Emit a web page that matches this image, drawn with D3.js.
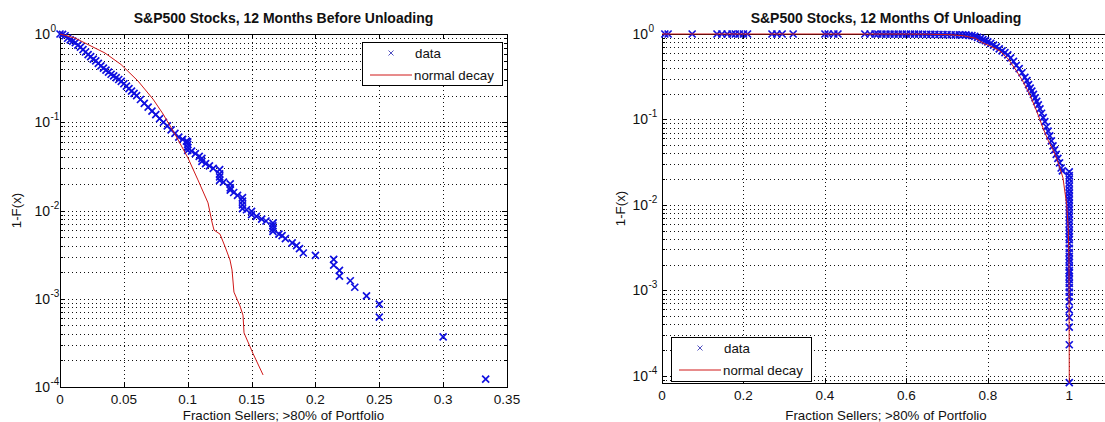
<!DOCTYPE html>
<html>
<head>
<meta charset="utf-8">
<script src="https://cdn.jsdelivr.net/npm/d3@7"></script>
<style>
  body { margin: 0; background: #fff; }
  svg text { font-family: "Liberation Sans", Arial, Helvetica, sans-serif; fill: #111; }
</style>
</head>
<body>
<svg id="chart" width="1105" height="422"></svg>
<script>
// ---- values: [fraction, 1-F(x)] ----
const beforeData = [
  [0,1],[0.002,0.99],[0.004,0.955],[0.006,0.895],[0.008,0.86],[0.010,0.83],[0.012,0.80],[0.014,0.75],
  [0.016,0.71],[0.018,0.665],[0.020,0.625],[0.022,0.585],[0.024,0.555],[0.026,0.52],[0.028,0.495],
  [0.030,0.465],[0.032,0.435],[0.034,0.41],[0.036,0.39],[0.038,0.37],[0.040,0.35],[0.042,0.335],
  [0.044,0.32],[0.046,0.305],[0.048,0.29],[0.050,0.273],[0.052,0.256],[0.054,0.24],[0.056,0.225],
  [0.058,0.212],[0.060,0.2],[0.063,0.181],[0.066,0.164],[0.069,0.148],[0.072,0.134],[0.075,0.122],
  [0.078,0.11],[0.081,0.1],[0.084,0.091],[0.087,0.082],[0.090,0.075],[0.093,0.068],[0.096,0.064],
  [0.099,0.061],[0.1,0.060],[0.1,0.056],[0.1,0.052],[0.1,0.048],[0.103,0.047],[0.106,0.044],
  [0.109,0.041],[0.1111,0.039],[0.1111,0.036],[0.114,0.034],[0.117,0.032],[0.120,0.030],
  [0.125,0.029],[0.125,0.026],[0.125,0.024],[0.125,0.022],[0.128,0.021],[0.1333,0.020],[0.1333,0.018],
  [0.1333,0.017],[0.136,0.016],[0.139,0.0148],[0.1429,0.0140],[0.1429,0.0128],[0.1429,0.0116],
  [0.1429,0.0105],[0.146,0.0102],[0.15,0.0098],[0.15,0.0090],[0.1538,0.0086],[0.1579,0.0080],
  [0.1613,0.0076],[0.1667,0.0072],[0.1667,0.0067],[0.1667,0.0062],[0.1667,0.0058],[0.1714,0.0054],
  [0.1739,0.0052],[0.1765,0.0048],[0.1818,0.0043],[0.1852,0.0040],[0.1875,0.0037],[0.1905,0.0033],
  [0.2,0.0031],[0.2143,0.0028],[0.2143,0.0024],[0.2188,0.0021],[0.2188,0.0018],[0.2273,0.0016],
  [0.2308,0.00135],[0.24,0.00108],[0.25,0.00087],[0.25,0.00062],[0.3,0.00037],[0.3333,0.000123]
]
const beforeDecay = [
  [0,1],[0.0117,0.901],[0.0219,0.76],[0.0352,0.609],[0.0478,0.451],[0.0611,0.293],[0.0728,0.183],
  [0.0807,0.124],[0.0908,0.0699],[0.1002,0.0394],[0.108,0.0222],[0.1159,0.0122],[0.119,0.0074],
  [0.1206,0.0060],[0.1253,0.0054],[0.1292,0.0039],[0.1331,0.00275],[0.1347,0.00212],[0.1362,0.00119],
  [0.1409,0.00083],[0.1433,0.00065],[0.1441,0.00041],[0.1511,0.00024],[0.159,0.000137]
]
const ofData = [
  // sparse points on the top edge
  [0.007,0.9999],[0.015,0.9999],[0.074,0.9999],[0.135,0.9999],[0.147,0.9999],[0.160,0.9999],
  [0.172,0.9999],[0.180,0.9999],[0.190,0.9999],[0.200,0.9999],[0.210,0.9999],[0.270,0.9999],
  [0.282,0.9999],[0.295,0.9999],[0.322,0.9999],[0.400,0.9999],[0.408,0.9999],[0.422,0.9999],
  [0.432,0.9999],[0.498,0.9998],[0.511,0.9998],
  // dense band
  [0.523,0.9996],[0.53,0.9995],[0.54,0.9993],[0.55,0.999],[0.56,0.9988],[0.57,0.9985],[0.58,0.998],
  [0.59,0.9975],[0.60,0.997],[0.61,0.9963],[0.62,0.9955],[0.63,0.9945],[0.64,0.9935],[0.65,0.992],
  [0.66,0.99],[0.67,0.988],[0.68,0.986],[0.69,0.984],[0.70,0.982],[0.71,0.98],[0.72,0.979],
  [0.73,0.978],[0.738,0.977],[0.746,0.975],[0.754,0.965],[0.761,0.955],[0.768,0.94],[0.775,0.915],
  [0.782,0.89],[0.788,0.86],[0.794,0.835],[0.800,0.81],[0.807,0.775],[0.814,0.74],[0.821,0.705],
  [0.828,0.67],[0.835,0.635],[0.842,0.605],[0.849,0.57],[0.856,0.525],[0.863,0.478],[0.870,0.43],
  [0.877,0.393],[0.884,0.352],[0.891,0.31],[0.896,0.285],[0.900,0.255],[0.904,0.232],[0.908,0.214],
  [0.912,0.196],[0.916,0.179],[0.920,0.163],[0.924,0.148],[0.928,0.133],[0.932,0.118],[0.936,0.105],
  [0.940,0.094],[0.944,0.082],[0.948,0.073],[0.952,0.064],[0.956,0.056],[0.960,0.049],[0.964,0.044],
  [0.968,0.039],[0.972,0.035],[0.976,0.031],[0.980,0.027],[0.983,0.025],
  // column at 1
  [1,0.0243],[1,0.022],[1,0.020],[1,0.018],[1,0.0165],[1,0.015],[1,0.0137],[1,0.0125],[1,0.0114],
  [1,0.0104],[1,0.0095],[1,0.0087],[1,0.0079],[1,0.0072],[1,0.0066],[1,0.006],[1,0.0055],[1,0.005],
  [1,0.0046],[1,0.0042],[1,0.0039],[1,0.0035],[1,0.0031],[1,0.00275],[1,0.0025],[1,0.00228],
  [1,0.0021],[1,0.00188],[1,0.0017],[1,0.0016],[1,0.00145],[1,0.00133],[1,0.0012],[1,0.00107],
  [1,0.00095],[1,0.00084],[1,0.00073],[1,0.00059],[1,0.00048],[1,0.00037],[1,0.00023],[1,0.000083]
]
const ofDecay = [
  [0,1],[0.3,0.99995],[0.5,0.9995],[0.6,0.998],[0.65,0.995],[0.707,0.981],[0.74,0.955],[0.77,0.89],
  [0.788,0.785],[0.81,0.71],[0.830,0.63],[0.850,0.51],[0.871,0.366],[0.888,0.27],[0.9035,0.193],
  [0.92,0.125],[0.9354,0.0796],[0.948,0.057],[0.960,0.044],[0.970,0.034],[0.977,0.0271],
  [0.9845,0.0207],[0.9936,0.0101],[0.9975,0.00538],[0.9993,0.00228],[1,0.000082]
]
const beforeTicks = [0, 0.05, 0.1, 0.15, 0.2, 0.25, 0.3, 0.35]
const beforeTickLabels = ["0", "0.05", "0.1", "0.15", "0.2", "0.25", "0.3", "0.35"]
const ofTicks = [0, 0.2, 0.4, 0.6, 0.8, 1]
const ofTickLabels = ["0", "0.2", "0.4", "0.6", "0.8", "1"]
const decades = [0, -1, -2, -3, -4]
const legendLabels = ["data", "normal decay"]

const svg = d3.select("#chart")

function drawPanel(p) {
  const x = d3.scaleLinear().domain(p.xDomain).range([p.left, p.right])
  const y = d3.scaleLog().domain(p.yDomain).range([p.bottom, p.top])
  const g = svg.append("g")

  // horizontal grid at every decade and its minor steps
  const yVals = []
  decades.forEach(e => {
    for (let k = 1; k < 10; k++) {
      const v = k * Math.pow(10, e - 1)
      if (v >= p.yDomain[0] && v < p.yDomain[1]) yVals.push({v: v, major: k == 1})
    }
  })
  g.append("g").selectAll("line").data(yVals.filter(d => y(d.v) < p.bottom - 1)).join("line")
    .attr("x1", p.left).attr("x2", p.right)
    .attr("y1", d => Math.round(y(d.v)) + 0.5).attr("y2", d => Math.round(y(d.v)) + 0.5)
    .attr("stroke", "#111").attr("stroke-dasharray", "1,3").attr("shape-rendering", "crispEdges")
  g.append("g").selectAll("line").data(p.xTicks.filter(t => t > p.xDomain[0] && t < p.xDomain[1])).join("line")
    .attr("x1", d => Math.round(x(d)) + 0.5).attr("x2", d => Math.round(x(d)) + 0.5)
    .attr("y1", p.top).attr("y2", p.bottom)
    .attr("stroke", "#111").attr("stroke-dasharray", "1,3").attr("shape-rendering", "crispEdges")

  // box
  g.append("rect").attr("x", p.left + 0.5).attr("y", p.top + 0.5)
    .attr("width", p.right - p.left).attr("height", p.bottom - p.top)
    .attr("fill", "none").attr("stroke", "#000").attr("shape-rendering", "crispEdges")

  // ticks, inside on all four sides
  const tk = g.append("g").attr("stroke", "#000").attr("shape-rendering", "crispEdges")
  yVals.forEach(d => {
    const yy = Math.round(y(d.v)) + 0.5
    const len = d.major ? 5 : 3
    tk.append("line").attr("x1", p.left).attr("x2", p.left + len).attr("y1", yy).attr("y2", yy)
    tk.append("line").attr("x1", p.right).attr("x2", p.right - len).attr("y1", yy).attr("y2", yy)
  })
  p.xTicks.forEach(t => {
    const xx = Math.round(x(t)) + 0.5
    tk.append("line").attr("x1", xx).attr("x2", xx).attr("y1", p.bottom).attr("y2", p.bottom - 5)
    tk.append("line").attr("x1", xx).attr("x2", xx).attr("y1", p.top).attr("y2", p.top + 5)
  })

  // tick labels
  g.append("g").selectAll("text").data(p.xTicks).join("text")
    .attr("x", d => x(d)).attr("y", p.bottom + 17)
    .attr("text-anchor", "middle").attr("font-size", 13.5).attr("fill", "#222")
    .text((d, i) => p.xTickLabels[i])
  decades.forEach(e => {
    const v = Math.pow(10, e)
    if (v < p.yDomain[0]) return
    const yy = y(v)
    g.append("text").attr("x", p.left - p.labelGap).attr("y", yy + 5)
      .attr("text-anchor", "end").attr("font-size", 14).text("10")
    g.append("text").attr("x", p.left - p.labelGap + 0.5).attr("y", yy - 2)
      .attr("font-size", 10).text(String(e))
  })

  // titles
  g.append("text").attr("x", (p.left + p.right) / 2).attr("y", 23)
    .attr("text-anchor", "middle").attr("font-size", 14).attr("font-weight", "bold").text(p.title)
  g.append("text").attr("x", (p.left + p.right) / 2).attr("y", 420)
    .attr("text-anchor", "middle").attr("font-size", 13.3).text("Fraction Sellers; >80% of Portfolio")
  g.append("text").attr("transform", `translate(${p.yLabelX},${(p.top + p.bottom) / 2}) rotate(-90)`)
    .attr("text-anchor", "middle").attr("font-size", 13.3).text("1-F(x)")

  // data crosses, then the red decay line on top
  g.append("g").selectAll("path").data(p.data).join("path")
    .attr("d", "M-3.5,-3.5L3.5,3.5M-3.5,3.5L3.5,-3.5")
    .attr("transform", d => `translate(${x(d[0])},${y(d[1])})`)
    .attr("fill", "none").attr("stroke", "#1010e0").attr("stroke-width", 1.7)
  g.append("path").datum(p.decay)
    .attr("d", d3.line().x(d => x(d[0])).y(d => y(d[1])))
    .attr("fill", "none").attr("stroke", "#d01818").attr("stroke-width", 1)

  // legend
  const L = p.legend
  const lg = g.append("g")
  lg.append("rect").attr("x", L.x + 0.5).attr("y", L.y + 0.5).attr("width", L.w).attr("height", L.h)
    .attr("fill", "#fff").attr("stroke", "#000").attr("shape-rendering", "crispEdges")
  lg.append("path").attr("d", "M-2.5,-2.5L2.5,2.5M-2.5,2.5L2.5,-2.5")
    .attr("transform", `translate(${L.x + 29},${L.y + 11})`)
    .attr("stroke", "#5050c0").attr("stroke-width", 1).attr("fill", "none")
  lg.append("line").attr("x1", L.x + 8).attr("x2", L.x + 50)
    .attr("y1", L.y + 33).attr("y2", L.y + 33).attr("stroke", "#d01818")
  lg.append("text").attr("x", L.x + 53).attr("y", L.y + 16).attr("font-size", 13.3).text(legendLabels[0])
  lg.append("text").attr("x", L.x + 52).attr("y", L.y + 38).attr("font-size", 13.3).text(legendLabels[1])
}

drawPanel({
  left: 60, right: 507, top: 34, bottom: 387,
  xDomain: [0, 0.35], yDomain: [1e-4, 1],
  xTicks: beforeTicks, xTickLabels: beforeTickLabels,
  data: beforeData, decay: beforeDecay,
  title: "S&P500 Stocks, 12 Months Before Unloading",
  labelGap: 10, yLabelX: 21,
  legend: {x: 362, y: 42, w: 140, h: 43}
})
drawPanel({
  left: 662, right: 1110, top: 34, bottom: 383,
  xDomain: [0, 1.1], yDomain: [8.2e-5, 1],
  xTicks: ofTicks, xTickLabels: ofTickLabels,
  data: ofData, decay: ofDecay,
  title: "S&P500 Stocks, 12 Months Of Unloading",
  labelGap: 14, yLabelX: 625,
  legend: {x: 671, y: 337, w: 140, h: 44}
})
</script>
</body>
</html>
